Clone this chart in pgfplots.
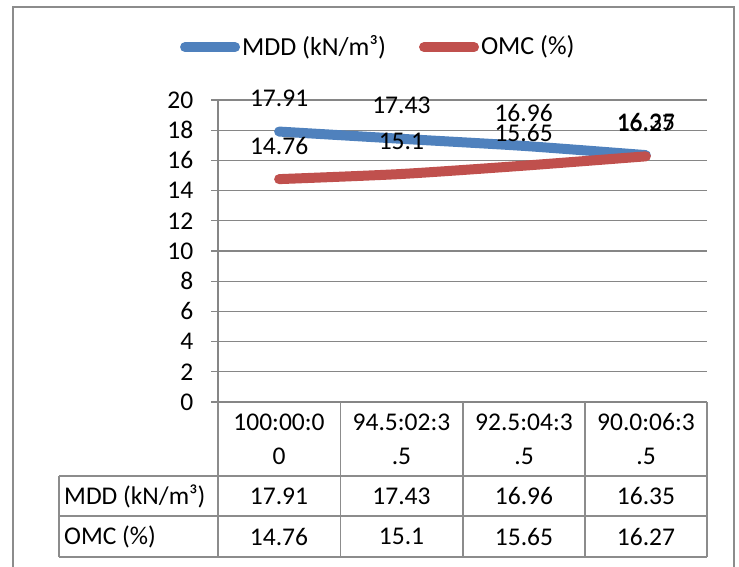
\documentclass[border=0pt]{standalone}
\usepackage{fontspec}
\setmainfont{Carlito}
\usepackage{pgfplots}
\pgfplotsset{compat=1.18}
\definecolor{mddblue}{HTML}{4F81BD}
\definecolor{omcred}{HTML}{C0504D}
\definecolor{gridgray}{HTML}{868686}
\definecolor{framegray}{HTML}{8C8C8C}
\begin{document}
\fontsize{25.5}{34}\selectfont
\begin{tikzpicture}[x=1pt,y=1pt]
\useasboundingbox (0,0) rectangle (739,566);
\draw[framegray, line width=1.6pt] (13,-5) -- (13,559) -- (734,559) -- (734,-5);
\begin{axis}[
  at={(218pt,164pt)}, anchor=south west,
  width=489pt, height=302pt, scale only axis,
  xmin=0, xmax=4, ymin=0, ymax=20,
  ytick={0,2,...,20},
  xtick=\empty,
  ymajorgrids,
  grid style={gridgray, line width=1.3pt},
  separate axis lines,
  axis x line*=bottom, axis y line*=left,
  axis line style={draw=gridgray, line width=1.3pt, -},
  tick align=outside,
  major tick length=7pt,
  ytick style={draw=gridgray, line width=1.3pt},
  /pgf/number format/assume math mode=true,
  yticklabel style={font=\fontsize{25.5}{30}\selectfont, xshift=-9pt},
  clip=false,
  legend style={at={(axis description cs:-0.078,1.175)}, anchor=west,
    draw=none, fill=none, inner sep=0pt,
    font=\fontsize{26}{30}\selectfont,
    /tikz/every even column/.append style={column sep=31pt}},
  legend columns=2,
  legend cell align=left,
]
\addplot[mddblue, line width=10pt, line cap=round, line join=round, smooth, tension=0.4,
  nodes near coords, point meta=explicit symbolic,
  every node near coord/.append style={anchor=center, yshift=33pt, text=black, font=\fontsize{25.5}{30}\selectfont},
  legend image code/.code={\draw[mddblue, line width=10pt, line cap=round] (5pt,0pt) -- (55pt,0pt);}]
  coordinates {(0.5,17.91)[17.91] (1.5,17.43)[17.43] (2.5,16.96)[16.96] (3.5,16.35)[16.35]};
\addlegendentry{MDD (kN/m³)}
\addplot[omcred, line width=10pt, line cap=round, line join=round, smooth, tension=0.4,
  nodes near coords, point meta=explicit symbolic,
  every node near coord/.append style={anchor=center, yshift=33pt, text=black, font=\fontsize{25.5}{30}\selectfont},
  legend image code/.code={\draw[omcred, line width=10pt, line cap=round] (5pt,0pt) -- (55pt,0pt);}]
  coordinates {(0.5,14.76)[14.76] (1.5,15.1)[15.1] (2.5,15.65)[15.65] (3.5,16.27)[16.27]};
\addlegendentry{OMC (\%)}
\end{axis}
% data table
\begin{scope}[framegray, line width=1.5pt]
\draw (59,90) -- (707,90);
\draw (59,50) -- (707,50);
\draw (59,9) -- (707,9);
\draw (59,90) -- (59,9);
\foreach \xx in {218,340.5,463,585,707} {\draw (\xx,164) -- (\xx,9);}
\end{scope}
\foreach \xx/\lab in {279/{100:00:0\\0}, 401.5/{94.5:02:3\\.5}, 524/{92.5:04:3\\.5}, 646/{90.0:06:3\\.5}}
  {\node[align=center, inner sep=0pt, font=\fontsize{25.5}{34}\selectfont] at (\xx,127) {\lab};}
\node[anchor=west, inner sep=0pt] at (64,70) {MDD (kN/m³)};
\node[anchor=west, inner sep=0pt] at (64,29.5) {OMC (\%)};
\foreach \xx/\v in {279/17.91, 401.5/17.43, 524/16.96, 646/16.35}
  {\node[inner sep=0pt] at (\xx,70) {\v};}
\foreach \xx/\v in {279/14.76, 401.5/15.1, 524/15.65, 646/16.27}
  {\node[inner sep=0pt] at (\xx,29.5) {\v};}
\end{tikzpicture}
\end{document}
